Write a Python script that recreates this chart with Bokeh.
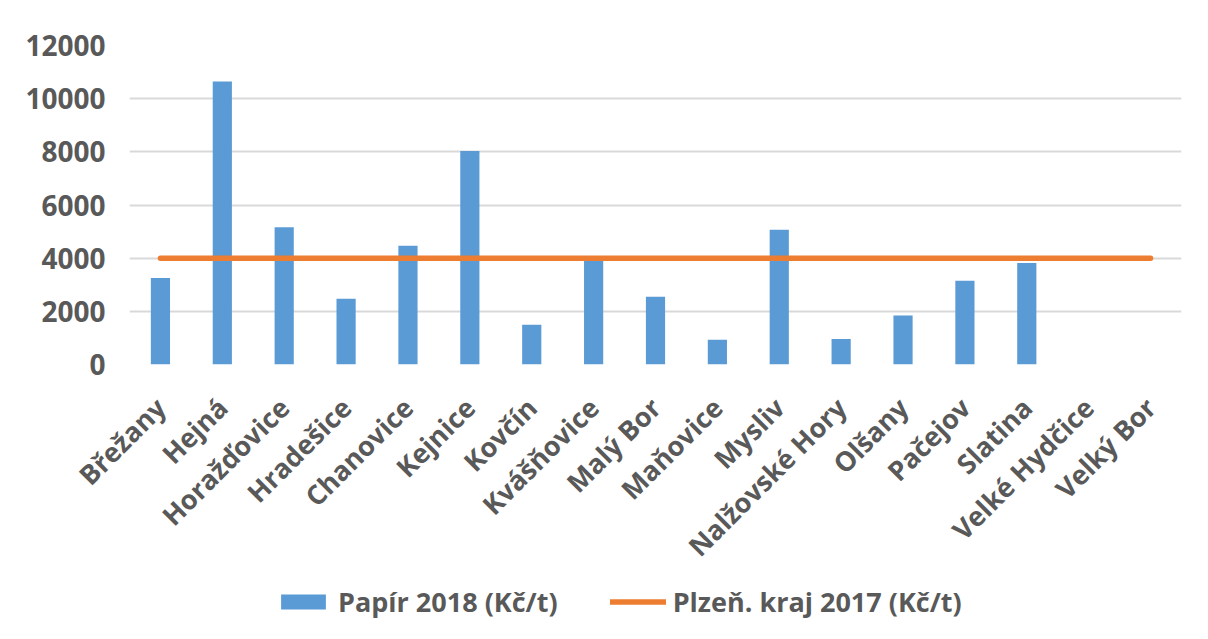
from bokeh.plotting import figure
from bokeh.models import Range1d, FixedTicker, Legend, LegendItem
from bokeh.layouts import column
from bokeh.embed import file_html
from bokeh.resources import INLINE
import math

categories = ["Břežany", "Hejná", "Horažďovice", "Hradešice", "Chanovice", "Kejnice",
              "Kovčín", "Kvášňovice", "Malý Bor", "Maňovice", "Mysliv", "Nalžovské Hory",
              "Olšany", "Pačejov", "Slatina", "Velké Hydčice", "Velký Bor"]
papir_2018 = [3250, 10650, 5160, 2470, 4470, 8030, 1500, 3950, 2550, 930, 5070, 960,
              1840, 3150, 3820, None, None]
kraj_2017 = [4000] * 17
y_ticks = [0, 2000, 4000, 6000, 8000, 10000, 12000]
series_names = ["Papír 2018 (Kč/t)", "Plzeň. kraj 2017 (Kč/t)"]

BLUE = "#5B9BD5"
ORANGE = "#ED7D31"
TEXT = "#595959"
GRID = "#D9D9D9"
FONT = "Open Sans"

tops = [float("nan") if v is None else v for v in papir_2018]

p = figure(x_range=categories, width=1192, height=580, output_backend="svg",
           toolbar_location=None, min_border_left=129, min_border_top=45,
           min_border_right=11, min_border_bottom=215)
p.y_range = Range1d(0, 12000)
p.outline_line_color = None
p.background_fill_color = "white"
p.border_fill_color = "white"

bars = p.vbar(x=categories, top=tops, width=0.31, fill_color=BLUE, line_color=None)
ln = p.line(x=categories, y=kraj_2017, line_color=ORANGE, line_width=5.5, line_cap="round")

p.yaxis.ticker = FixedTicker(ticks=y_ticks)
p.yaxis.axis_line_color = None
p.yaxis.major_tick_line_color = None
p.yaxis.minor_tick_line_color = None
p.yaxis.major_label_standoff = 18
p.yaxis.major_label_text_font = FONT
p.yaxis.major_label_text_font_style = "bold"
p.yaxis.major_label_text_font_size = "28px"
p.yaxis.major_label_text_color = TEXT

p.xaxis.axis_line_color = None
p.xaxis.major_tick_line_color = None
p.xaxis.major_label_orientation = math.pi / 4
p.xaxis.major_label_standoff = 32
p.xaxis.major_label_text_font = FONT
p.xaxis.major_label_text_font_style = "bold"
p.xaxis.major_label_text_font_size = "27px"
p.xaxis.major_label_text_color = TEXT

p.xgrid.grid_line_color = None
p.ygrid.grid_line_color = GRID
p.ygrid.grid_line_width = 2

# legend strip (dummy renderers outside its visible range)
p2 = figure(width=1192, height=43, output_backend="svg", toolbar_location=None,
            min_border=0, x_range=Range1d(0, 1), y_range=Range1d(0, 1))
p2.axis.visible = False
p2.grid.visible = False
p2.outline_line_color = None
lb = p2.vbar(x=[-10], top=[-10], width=0.3, fill_color=BLUE, line_color=None)
ll = p2.line(x=[-10, -9], y=[-10, -10], line_color=ORANGE, line_width=5.5, line_cap="round")
legend = Legend(items=[LegendItem(label=series_names[0], renderers=[lb]),
                       LegendItem(label=series_names[1], renderers=[ll])],
                orientation="horizontal", location=(146, 3),
                glyph_width=56, glyph_height=19, spacing=52, label_standoff=7,
                label_text_font=FONT, label_text_font_style="bold",
                label_text_font_size="27px", label_text_color=TEXT,
                border_line_color=None, background_fill_alpha=0, margin=0, padding=0)
p2.add_layout(legend, "center")

layout = column(p, p2, spacing=0)

open("out.html", "w").write(file_html(layout, INLINE))
